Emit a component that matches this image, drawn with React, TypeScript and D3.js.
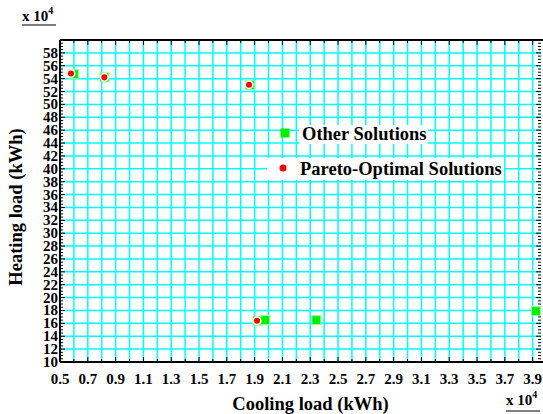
import React from 'react';
import * as d3 from 'd3';

// values (x in 10^4 kWh, y in 10^4 kWh)
const otherX = [0.6, 0.82, 1.865, 1.92, 1.977, 2.344, 3.924];
const otherY = [54.7, 54.2, 53.0, 16.4, 16.5, 16.5, 17.9];
const paretoX = [0.579, 0.819, 1.86, 1.917];
const paretoY = [54.8, 54.2, 53.06, 16.4];
const xTickLabels = ['0.5', '0.7', '0.9', '1.1', '1.3', '1.5', '1.7', '1.9', '2.1', '2.3', '2.5', '2.7', '2.9', '3.1', '3.3', '3.5', '3.7', '3.9'];
const yTickLabels = ['10', '12', '14', '16', '18', '20', '22', '24', '26', '28', '30', '32', '34', '36', '38', '40', '42', '44', '46', '48', '50', '52', '54', '56', '58'];
const legendItems = ['Other Solutions', 'Pareto-Optimal Solutions'];

const W = 543;
const H = 414;
const left = 60, right = 541, top = 40, bottom = 362;
const font = '"Liberation Serif", "Times New Roman", serif';

export default function App() {
  const x = d3.scaleLinear().domain([0.5, 3.96]).range([left, right]);
  const y = d3.scaleLinear().domain([10, 60]).range([bottom, top]);

  const xGrid = d3.range(0.5, 3.96, 0.1);
  const yGrid = d3.range(10, 60.01, 2);
  const yMinor = d3.range(10, 60.01, 0.5);

  return (
    <svg width={W} height={H} style={{ position: 'absolute', left: 0, top: 0, background: '#fff' }}
      fontFamily={font} fontWeight="bold">
      {/* grid */}
      <g stroke="#00ffff" strokeWidth={1.5}>
        {xGrid.map((v, i) => (
          <line key={'gx' + i} x1={x(v)} x2={x(v)} y1={top} y2={bottom} />
        ))}
        {yGrid.map((v, i) => (
          <line key={'gy' + i} x1={left} x2={right} y1={y(v)} y2={y(v)} />
        ))}
      </g>

      {/* ticks */}
      <g stroke="#000" strokeWidth={1}>
        {xGrid.map((v, i) => (
          <g key={'tx' + i}>
            <line x1={x(v)} x2={x(v)} y1={bottom} y2={bottom - (i % 2 === 0 ? 5 : 3)} />
            <line x1={x(v)} x2={x(v)} y1={top} y2={top + (i % 2 === 0 ? 5 : 3)} />
          </g>
        ))}
        {yMinor.map((v, i) => (
          <g key={'ty' + i}>
            <line x1={left} x2={left + (i % 4 === 0 ? 5 : 3)} y1={y(v)} y2={y(v)} />
            <line x1={right} x2={right - (i % 4 === 0 ? 5 : 3)} y1={y(v)} y2={y(v)} />
          </g>
        ))}
      </g>

      {/* axis lines */}
      <g stroke="#000" strokeWidth={2} fill="none">
        <line x1={left} x2={right + 2} y1={bottom} y2={bottom} />
        <line x1={left} x2={left} y1={top} y2={bottom} />
        <line x1={left} x2={right + 2} y1={top} y2={top} />
      </g>

      {/* tick labels */}
      <g fontSize={15} fill="#000">
        {xTickLabels.map((t) => (
          <text key={'xl' + t} x={x(+t)} y={bottom + 22} textAnchor="middle">{t}</text>
        ))}
        {yTickLabels.map((t) => (
          <text key={'yl' + t} x={left - 2} y={y(+t) + 5} textAnchor="end">{t}</text>
        ))}
      </g>

      {/* exponent markers */}
      <g fill="#000">
        <text x={22} y={21} fontSize={15}>x 10<tspan fontSize={10} dy={-7}>4</tspan></text>
        <line x1={22} x2={56} y1={25} y2={25} stroke="#000" strokeWidth={1} />
        <text x={506} y={405} fontSize={15}>x 10<tspan fontSize={10} dy={-7}>4</tspan></text>
        <line x1={506} x2={540} y1={411} y2={411} stroke="#000" strokeWidth={1} />
      </g>

      {/* axis titles */}
      <text x={310.5} y={410} fontSize={18.5} textAnchor="middle" fill="#000">Cooling load (kWh)</text>
      <text transform={`translate(22,${(top + bottom) / 2 + 6}) rotate(-90)`} fontSize={18.5} textAnchor="middle" fill="#000">
        Heating load (kWh)
      </text>

      {/* other solutions */}
      {otherX.map((v, i) => (
        <rect key={'o' + i} x={x(v) - 4.5} y={y(otherY[i]) - 4.5} width={9} height={9}
          fill="#00ee00" stroke="#99ff99" strokeWidth={1} />
      ))}
      {/* pareto optimal */}
      {paretoX.map((v, i) => (
        <circle key={'p' + i} cx={x(v)} cy={y(paretoY[i])} r={3.8}
          fill="#ff0000" stroke="#eeffee" strokeWidth={1.5} />
      ))}

      {/* legend */}
      <rect x={299} y={125} width={129} height={19} fill="#fff" />
      <rect x={267} y={158} width={237} height={22} fill="#fff" />
      <rect x={280.5} y={128.5} width={9} height={9} fill="#00ee00" />
      <circle cx={283} cy={168} r={3.5} fill="#ff0000" />
      <text x={302} y={140} fontSize={18.5} fill="#000">{legendItems[0]}</text>
      <text x={300} y={175} fontSize={18.5} fill="#000">{legendItems[1]}</text>
    </svg>
  );
}
